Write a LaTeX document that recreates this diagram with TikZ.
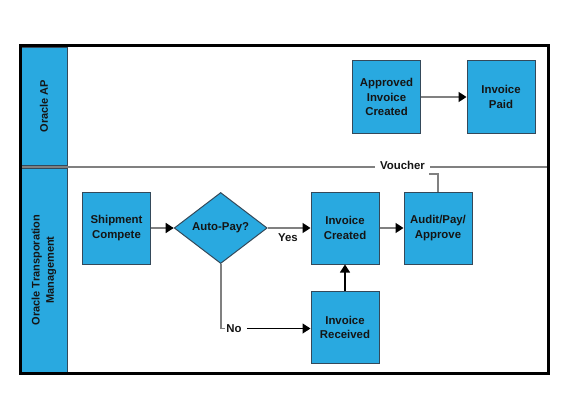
\documentclass[tikz,border=0pt]{standalone}
\usepackage{fontspec}
\setmainfont{Liberation Sans}
\usetikzlibrary{shapes.geometric,arrows.meta}
\definecolor{boxblue}{HTML}{29A9E0}
\definecolor{boxedge}{HTML}{34495A}
\definecolor{lineg}{HTML}{808080}
\definecolor{txt}{HTML}{151515}
\begin{document}
\begin{tikzpicture}[x=1pt,y=-1pt,
  every node/.style={font=\fontsize{11.4}{14.2}\selectfont\bfseries, text=txt},
  procbox/.style={draw=boxedge, line width=1pt, fill=boxblue, inner sep=0pt,
    minimum width=68pt, minimum height=72pt, align=center},
  decbox/.style={draw=boxedge, line width=1pt, fill=boxblue, shape=diamond, inner sep=0pt,
    minimum width=93pt, minimum height=71pt, aspect=1.31},
  lanehead/.style={draw=boxedge, line width=0.8pt, fill=boxblue},
  greyline/.style={draw=lineg, line width=1.6pt},
  flow/.style={draw=lineg, line width=1.6pt, -{Triangle[length=8pt,width=10pt,color=black]}},
  blackflow/.style={draw=black, line width=1.2pt, -{Triangle[length=8pt,width=10pt]}},
  lbl/.style={inner sep=1pt}
]
\useasboundingbox (0,0) rectangle (570,420);
% lanes
\draw[lanehead] (21.5,47.5) rectangle (67,165);
\draw[lanehead] (21.5,168.5) rectangle (67,372);
\node[rotate=90, align=center, font=\fontsize{11}{14.3}\selectfont\bfseries] (laneap) at (44,106) {Oracle AP};
\node[rotate=90, align=center, font=\fontsize{11}{14.3}\selectfont\bfseries] (laneotm) at (44,270) {Oracle Transporation\\Management};
% divider
\draw[draw=lineg, line width=2pt] (22,166.5) -- (548,166.5);
\node[lbl, fill=white, inner xsep=5pt] (vch) at (402.5,165) {Voucher};
% outer frame
\draw[line width=3pt] (20.5,46) rectangle (548.5,373.5);
% nodes
\node[procbox] (apc) at (386.5,97) {Approved\\Invoice\\Created};
\node[procbox] (paid) at (501,97) {Invoice\\Paid};
\node[procbox] (ship) at (116.5,228) {Shipment\\Compete};
\node[decbox] (dia) at (220.7,228) {Auto-Pay?};
\node[procbox] (ic) at (345,228) {Invoice\\Created};
\node[procbox] (aud) at (438,228) {Audit/Pay/\\Approve};
\node[procbox] (ir) at (345,327.5) {Invoice\\Received};
% connectors
\draw[flow] (apc.east) -- (paid.west);
\draw[flow] (ship.east) -- (dia.west);
\draw[flow] (dia.east) -- (ic.west);
\node[lbl] (yes) at (288,237.5) {Yes};
\draw[flow] (ic.east) -- (aud.west);
\draw[blackflow] (ir.north) -- (ic.south);
\coordinate (nocorner) at (220.7,328.5);
\draw[greyline] (dia.south) -- (nocorner) -- ++(4,0);
\node[lbl] (no) at (234,328.5) {No};
\draw[blackflow] (no.east) ++(4,0) -- (ir.west |- no.east);
\coordinate (vcorner) at (438,174);
\draw[greyline] (aud.north) -- (vcorner) -- ++(-9.5,0);
\end{tikzpicture}
\end{document}
